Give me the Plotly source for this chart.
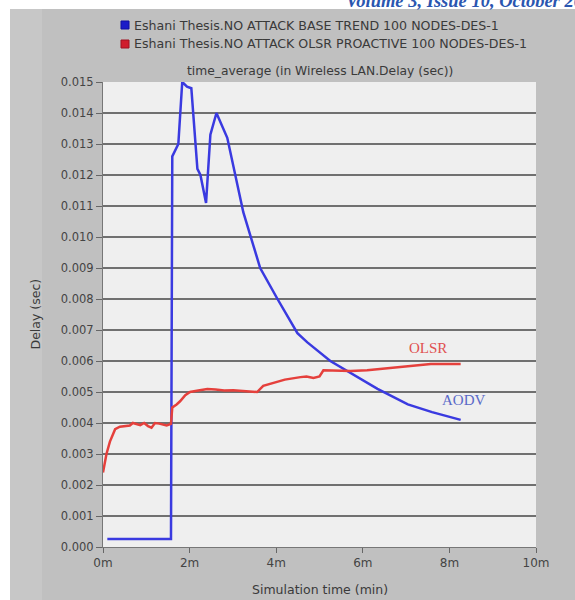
import plotly.graph_objects as go

# ---- data ----
aodv_t = [0.1, 1.57, 1.6, 1.74, 1.83, 1.94, 2.04, 2.18, 2.25, 2.38, 2.48, 2.62, 2.87,
          3.24, 3.63, 4.03, 4.49, 4.72, 5.25, 5.72, 6.34, 7.04, 7.6, 8.26]
aodv_delay = [0.00026, 0.00026, 0.0126, 0.0130, 0.0150, 0.01485, 0.0148, 0.0122, 0.0120,
              0.0111, 0.0133, 0.0140, 0.0132, 0.0108, 0.0090, 0.0080, 0.0069, 0.0066,
              0.0060, 0.0056, 0.0051, 0.0046, 0.00435, 0.0041]

olsr_t = [0, 0.08, 0.16, 0.22, 0.28, 0.39, 0.5, 0.62, 0.69, 0.78, 0.86, 0.95, 1.04, 1.12,
          1.2, 1.3, 1.37, 1.47, 1.57, 1.6, 1.7, 1.78, 1.9, 2.01, 2.2, 2.41, 2.6, 2.8, 3.01,
          3.3, 3.56, 3.7, 3.94, 4.2, 4.56, 4.7, 4.86, 5.0, 5.09, 5.4, 5.72, 6.1, 6.48, 6.8,
          7.04, 7.57, 8.26]
olsr_delay = [0.0024, 0.0030, 0.0034, 0.0036, 0.0038, 0.00388, 0.0039, 0.00392, 0.0040,
              0.00395, 0.00393, 0.0040, 0.0039, 0.00385, 0.0040, 0.00398, 0.00395, 0.00392,
              0.00397, 0.0045, 0.0046, 0.0047, 0.0049, 0.0050, 0.00505, 0.0051, 0.00508,
              0.00505, 0.00506, 0.00503, 0.0050, 0.0052, 0.0053, 0.0054, 0.00548, 0.0055,
              0.00545, 0.0055, 0.0057, 0.00568, 0.00568, 0.0057, 0.00575, 0.0058, 0.00584,
              0.0059, 0.0059]

x_tick_vals = [0, 2, 4, 6, 8, 10]
x_tick_text = ["0m", "2m", "4m", "6m", "8m", "10m"]
y_tick_vals = [i / 1000 for i in range(16)]
y_tick_text = ["%.3f" % v for v in y_tick_vals]

legend_labels = ["Eshani Thesis.NO ATTACK BASE TREND 100 NODES-DES-1",
                 "Eshani Thesis.NO ATTACK OLSR PROACTIVE 100 NODES-DES-1"]
chart_title = "time_average (in Wireless LAN.Delay (sec))"
header_text = "Volume 3, Issue 10, October 2014"

BLUE = "#3a3ae0"
RED = "#e5403c"
FONT = "DejaVu Sans"
TXT = "#3a3a3a"

# plot-area geometry (px)
L, R, T, B = 103, 536, 82, 547
W_, H_ = 575, 600
pw, ph = R - L, B - T


def px(x):
    return (x - L) / pw


def py(y):
    return (B - y) / ph


fig = go.Figure()
fig.add_trace(go.Scatter(x=aodv_t, y=aodv_delay, mode="lines",
                         line=dict(color=BLUE, width=2.5), name=legend_labels[0]))
fig.add_trace(go.Scatter(x=olsr_t, y=olsr_delay, mode="lines",
                         line=dict(color=RED, width=2.5), name=legend_labels[1]))

shapes = [
    # white margins at top/left
    dict(type="rect", xref="paper", yref="paper", x0=px(0), x1=px(W_), y0=py(9), y1=py(0),
         fillcolor="white", line_width=0, layer="below"),
    dict(type="rect", xref="paper", yref="paper", x0=px(0), x1=px(10), y0=py(H_), y1=py(0),
         fillcolor="white", line_width=0, layer="below"),
    # lighter strip at left
    dict(type="rect", xref="paper", yref="paper", x0=px(10), x1=px(42), y0=py(H_), y1=py(9),
         fillcolor="#c7c7c7", line_width=0, layer="below"),
    # legend squares
    dict(type="rect", xref="paper", yref="paper", x0=px(121), x1=px(129), y0=py(29), y1=py(21),
         fillcolor="#1c1cc8", line=dict(color="#1010a0", width=1)),
    dict(type="rect", xref="paper", yref="paper", x0=px(121), x1=px(129), y0=py(48), y1=py(40),
         fillcolor="#d01c2c", line=dict(color="#a01020", width=1)),
]

annotations = [
    dict(text="<b><i>" + header_text + "</i></b>", xref="paper", yref="paper",
         x=px(344), y=py(1), xanchor="left", yanchor="middle", showarrow=False,
         font=dict(family="Liberation Serif", size=18.5, color="#2a56b0")),
    dict(text=legend_labels[0], xref="paper", yref="paper", x=px(132), y=py(25),
         xanchor="left", yanchor="middle", showarrow=False,
         font=dict(family=FONT, size=12.6, color=TXT)),
    dict(text=legend_labels[1], xref="paper", yref="paper", x=px(132), y=py(44),
         xanchor="left", yanchor="middle", showarrow=False,
         font=dict(family=FONT, size=12.6, color=TXT)),
    dict(text=chart_title, xref="paper", yref="paper", x=0.5, y=py(71),
         xanchor="center", yanchor="middle", showarrow=False,
         font=dict(family=FONT, size=12.3, color=TXT)),
    dict(text="Delay (sec)", xref="paper", yref="paper", x=px(35), y=0.5,
         xanchor="center", yanchor="middle", showarrow=False, textangle=-90,
         font=dict(family=FONT, size=12.5, color=TXT)),
    dict(text="Simulation time (min)", xref="paper", yref="paper", x=0.5, y=py(589),
         xanchor="center", yanchor="middle", showarrow=False,
         font=dict(family=FONT, size=12.5, color=TXT)),
    dict(text="OLSR", x=7.5, y=0.00642, xref="x", yref="y", showarrow=False,
         font=dict(family="Liberation Serif", size=15, color="#e05050")),
    dict(text="AODV", x=8.33, y=0.00474, xref="x", yref="y", showarrow=False,
         font=dict(family="Liberation Serif", size=15, color="#5a6ac8")),
]

fig.update_layout(
    width=W_, height=H_,
    margin=dict(l=L, r=W_ - R, t=T, b=H_ - B, pad=0),
    paper_bgcolor="#c0c0c0",
    plot_bgcolor="#efefef",
    showlegend=False,
    shapes=shapes,
    annotations=annotations,
    xaxis=dict(range=[0, 10], tickvals=x_tick_vals, ticktext=x_tick_text,
               showgrid=False, zeroline=False, showline=True, linecolor="#777777",
               linewidth=1, ticks="outside", ticklen=5, tickcolor="#666666",
               tickfont=dict(family=FONT, size=12, color="#444444")),
    yaxis=dict(range=[0, 0.015], tickvals=y_tick_vals, ticktext=y_tick_text,
               showgrid=True, gridcolor="#707070", gridwidth=1.5, zeroline=False,
               showline=True, linecolor="#777777", linewidth=1,
               ticks="outside", ticklen=6, tickcolor="#666666",
               tickfont=dict(family=FONT, size=11.5, color="#444444")),
)

fig.write_html("out.html", config={"displayModeBar": False},
               post_script="document.body.style.margin='0';document.body.style.overflow='hidden';")
